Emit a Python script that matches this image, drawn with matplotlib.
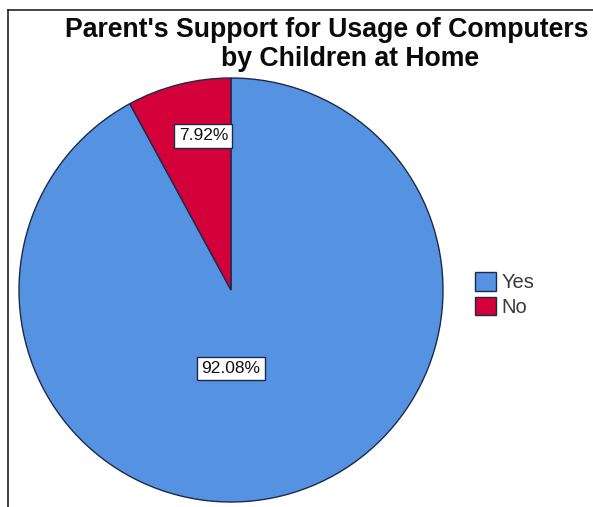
import matplotlib
matplotlib.use("Agg")
import matplotlib.pyplot as plt
from matplotlib.patches import Patch
from matplotlib.lines import Line2D

plt.rcParams['font.family'] = ['Liberation Sans', 'DejaVu Sans']

title_lines = ["Parent's Support for Usage of Computers", "by Children at Home"]
categories = ["Yes", "No"]
percents = [92.08, 7.92]
colors = ["#5592e2", "#d3003a"]
edge = "#1c2a4a"

W, H = 593, 507
fig = plt.figure(figsize=(W / 100, H / 100), dpi=100)

# pie axes: center (231, 290) px, radius 212 px
cx, cy, r = 231, 290, 212
ax = fig.add_axes([(cx - r) / W, (H - cy - r) / H, 2 * r / W, 2 * r / H])
wedges, _ = ax.pie(percents, colors=colors, startangle=90, counterclock=False,
                   radius=1.0, wedgeprops=dict(edgecolor=edge, linewidth=1.0))
ax.set_xlim(-1, 1)
ax.set_ylim(-1, 1)
ax.set_aspect('equal')
ax.axis('off')

# percentage labels in white boxes
label_pos = [(0.0, -0.37), (-0.13, 0.727)]
for (x, y), p in zip(label_pos, percents):
    ax.text(x, y, f"{p:.2f}%", ha='center', va='center', fontsize=12.5,
            color='#111111',
            bbox=dict(boxstyle='square,pad=0.25', facecolor='white',
                      edgecolor=edge, linewidth=1.0))

# two title lines, placed by their baselines (px from the top)
for (x, y), line in zip([(327, 37), (350, 66)], title_lines):
    fig.text(x / W, 1 - y / H, line, ha='center', va='baseline',
             fontsize=19.2, fontweight='bold', color='#0a0a0a')

handles = [Patch(facecolor=c, edgecolor=edge, linewidth=1.0) for c in colors]
fig.legend(handles, categories, loc='upper left',
           bbox_to_anchor=(461 / W, 1 - 258 / H), frameon=False,
           fontsize=14.5, handlelength=1.05, handleheight=1.05,
           handletextpad=0.25, labelspacing=0.22, borderpad=0.2,
           labelcolor='#3a3a3a')

# frame lines on the left and top
fig.add_artist(Line2D([8 / W, 8 / W], [0, 1 - 10 / H], color='#222222',
                      linewidth=1.2, transform=fig.transFigure))
fig.add_artist(Line2D([8 / W, 1], [1 - 10 / H, 1 - 10 / H], color='#222222',
                      linewidth=1.2, transform=fig.transFigure))

fig.savefig("out.png", dpi=100)
